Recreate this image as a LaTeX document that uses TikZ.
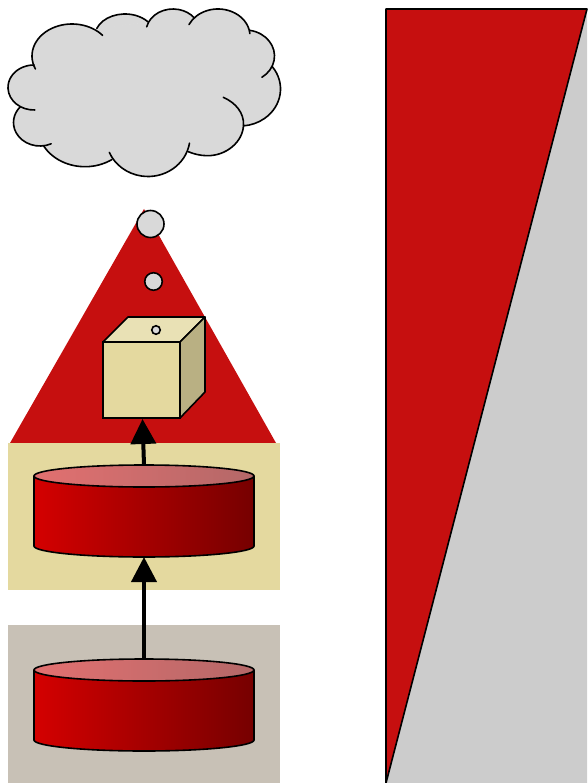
\documentclass[tikz,border=0pt]{standalone}
\usetikzlibrary{arrows.meta}
\definecolor{cred}{HTML}{C60F0F}
\definecolor{csand}{HTML}{E4D99F}
\definecolor{ctop}{HTML}{E9E1B5}
\definecolor{cside}{HTML}{B9B083}
\definecolor{ctaupe}{HTML}{C8C1B6}
\definecolor{ccloud}{HTML}{D9D9D9}
\definecolor{cgrey}{HTML}{CCCCCC}
\definecolor{bodyl}{HTML}{D40000}
\definecolor{bodyr}{HTML}{760000}
\definecolor{capl}{HTML}{E27070}
\definecolor{capr}{HTML}{B46868}
\tikzset{
  outl/.style={draw=black,line width=1.6pt},
  ball/.style={circle,draw=black,line width=1.6pt,fill=ccloud,inner sep=0pt,minimum size=#1},
  pipe/.style={line width=4pt,-{Triangle[length=25pt,width=25pt]}},
  lobe/.style={line width=1.6pt,line cap=round},
  lobefill/.style={fill=ccloud,draw=ccloud,line width=1pt},
}
\newcommand{\cyl}[3]{% name, top y, bottom y
  \shade[left color=bodyl,right color=bodyr,draw=none]
    (34,#2) -- (34,#3) arc[start angle=180,end angle=0,x radius=110,y radius=11] -- (254,#2) -- cycle;
  \shade[left color=capl,right color=capr,draw=none] (144,#2) ellipse[x radius=110,y radius=11];
  \draw[outl] (34,#2) -- (34,#3) arc[start angle=180,end angle=0,x radius=110,y radius=11] -- (254,#2);
  \draw[outl] (144,#2) ellipse[x radius=110,y radius=11];
  \coordinate (#1top) at (144,#2-11);
  \coordinate (#1bot) at (144,#3+11);
}
\begin{document}
\begin{tikzpicture}[x=1pt,y=-1pt]
\useasboundingbox (0,0) rectangle (587,783);
% panels
\fill[ctaupe] (8,625) rectangle (280,783);
\fill[cred] (144,209) -- (276,443) -- (10,443) -- cycle;
\fill[csand] (8,443) rectangle (280,590);
% cylinders
\cyl{upper}{476}{546}
\cyl{lower}{670}{740}
% cube
\coordinate (cubeb) at (142.5,419);
\draw[outl,fill=csand] (103,342) rectangle (180,418);
\draw[outl,fill=ctop,line join=round] (103,342) -- (128,317) -- (205,317) -- (180,342) -- cycle;
\draw[outl,fill=cside,line join=round] (180,342) -- (205,317) -- (205,392) -- (180,418) -- cycle;
% balls
\node[ball=27pt] (b1) at (150.5,224) {};
\node[ball=17.5pt] (b2) at (153.5,281.5) {};
\node[ball=8.5pt] (b3) at (156,330) {};
% arrows
\draw[pipe] (lowertop) -- (upperbot);
\draw[pipe] (uppertop) -- (cubeb);
% cloud fill
\path[lobefill,line join=round] (33,67) -- (97,29) -- (148,22.5) -- (192,19) -- (250,31) -- (272,67) -- (244,126) -- (190,148) -- (112,159) -- (44,146) -- (21,107) -- cycle;
\def\lobes{34/87.5/26/22.5/88/270, 72/56/40/32/156/320, 125/36/30/22/200/320, 173/32/27/23/193/322, 218/36/32/27/205/355, 245/56/29.5/26/280/415, 240/89/40.5/37/-37/85, 148/137/42/39.5/9/157, 85/127/47/39.7/55/152, 40/122.5/26.5/23.5/65/222}
\foreach \cx/\cy/\rx/\ry/\ta/\tb in \lobes {
  \path[lobefill] ({\cx+\rx*cos(\ta)},{\cy+\ry*sin(\ta)}) arc[start angle=\ta,end angle=\tb,x radius=\rx,y radius=\ry] -- cycle;
}
\def\lobeE{(223.3,97.3) .. controls (236,103) and (244,113) .. (243.5,125) .. controls (243,142) and (226,156) .. (207,155.7) .. controls (200,155.6) and (194,154) .. (188.3,151.7)}
\path[lobefill] \lobeE -- cycle;
\foreach \cx/\cy/\rx/\ry/\ta/\tb in \lobes {
  \draw[lobe] ({\cx+\rx*cos(\ta)},{\cy+\ry*sin(\ta)}) arc[start angle=\ta,end angle=\tb,x radius=\rx,y radius=\ry];
}
\draw[lobe] \lobeE;
% right shape
\fill[cgrey] (587,9) -- (587,783) -- (386,783) -- cycle;
\draw[outl,fill=cred,line join=round] (386,9) -- (587,9) -- (386,783) -- cycle;
\end{tikzpicture}
\end{document}
